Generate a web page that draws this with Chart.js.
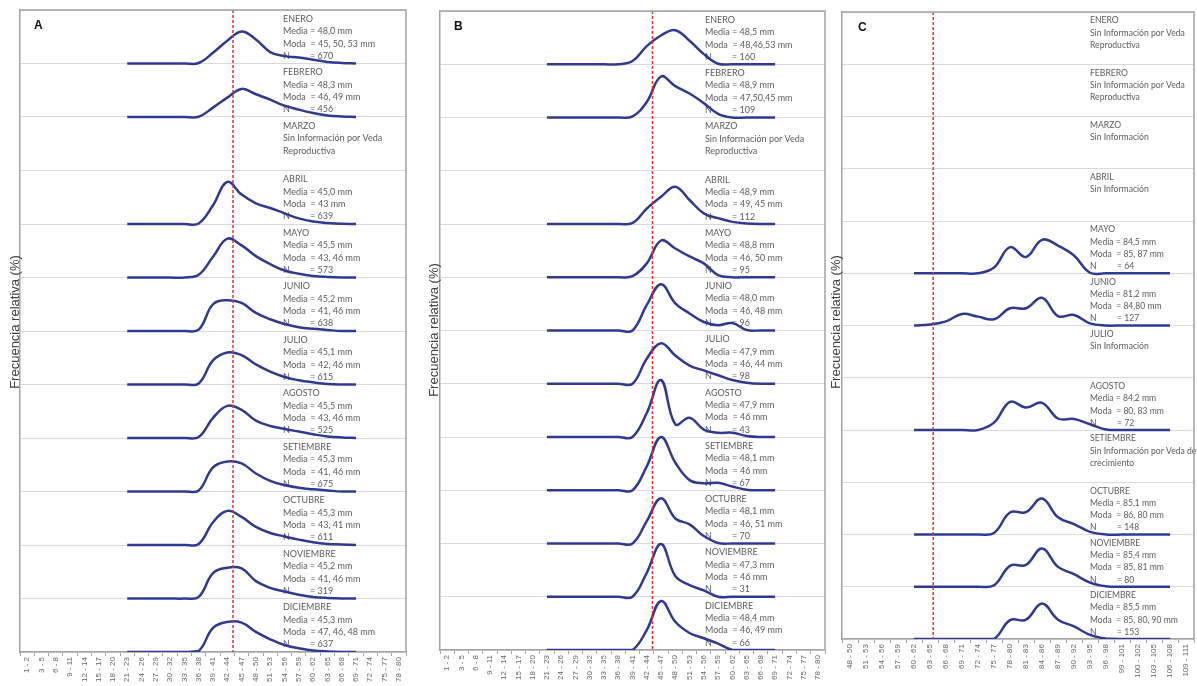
<!DOCTYPE html>
<html>
<head>
<meta charset="utf-8">
<script src="https://cdn.jsdelivr.net/npm/chart.js@4.4.1/dist/chart.umd.min.js"></script>
<style>
    html, body { margin: 0; padding: 0; background: #fff; overflow: hidden; }
    body { width: 1197px; height: 686px; position: relative; }
    canvas { position: absolute; top: 0; }
</style>
</head>
<body>
<canvas id="chartA" width="420" height="686" style="left:0"></canvas>
<canvas id="chartB" width="420" height="686" style="left:420px"></canvas>
<canvas id="chartC" width="377" height="686" style="left:820px"></canvas>
<script>
// Categories (talla, mm)
const labelsAB = ['1 - 2', '3 - 5', '6 - 8', '9 - 11', '12 - 14', '15 - 17', '18 - 20', '21 - 23', '24 - 26',
    '27 - 29', '30 - 32', '33 - 35', '36 - 38', '39 - 41', '42 - 44', '45 - 47', '48 - 50', '51 - 53',
    '54 - 56', '57 - 59', '60 - 62', '63 - 65', '66 - 68', '69 - 71', '72 - 74', '75 - 77', '78 - 80'];
const labelsC = ['48 - 50', '51 - 53', '54 - 56', '57 - 59', '60 - 62', '63 - 65', '66 - 68', '69 - 71',
    '72 - 74', '75 - 77', '78 - 80', '81 - 83', '84 - 86', '87 - 89', '90 - 92', '93 - 95', '96 - 98',
    '99 - 101', '100 - 102', '103 - 105', '106 - 108', '109 - 111'];

const MONTHS = ['ENERO', 'FEBRERO', 'MARZO', 'ABRIL', 'MAYO', 'JUNIO', 'JULIO', 'AGOSTO',
    'SETIEMBRE', 'OCTUBRE', 'NOVIEMBRE', 'DICIEMBRE'];

// Frecuencia relativa (%) - A: from '21 - 23' to '69 - 71'
const A_ENE = [0, 0, 0, 0, 0, 0.4, 8, 17, 24, 18, 8.5, 5.5, 4.5, 2.8, 1.2, 0.4, 0];
const A_FEB = [0, 0, 0, 0, 0, 0.2, 7, 14.5, 21, 17, 13, 8.5, 5.5, 3, 1.2, 0.4, 0];
const A_ABR = [0, 0, 0, 0, 0, 0.4, 14, 31.5, 22, 15.5, 12, 8, 4.2, 1.8, 0.8, 0.2, 0];
const A_MAY = [0, 0, 0, 0, 0, 2, 15.5, 29, 24, 16, 10, 5.2, 2.8, 1.2, 0.4, 0, 0];
const A_JUN = [0, 0, 0, 0, 0, 1, 20, 23, 21, 13.5, 8.8, 5.2, 2.8, 1.6, 0.8, 0, 0];
const A_JUL = [0, 0, 0, 0, 0, 0.8, 18, 24, 22, 15, 9.6, 5.6, 3.2, 1.6, 0.4, 0, 0];
const A_AGO = [0, 0, 0, 0, 0, 0.8, 15, 24, 21, 13, 9, 6.8, 4.8, 2.8, 1.2, 0.4, 0];
const A_SET = [0, 0, 0, 0, 0, 0.8, 18, 22.5, 21, 13.5, 8, 4.8, 2.8, 1.6, 0.8, 0, 0];
const A_OCT = [0, 0, 0, 0, 0, 0.8, 17, 25.5, 21, 13.5, 9, 6.4, 4, 2, 0.8, 0.4, 0];
const A_NOV = [0, 0, 0, 0, 0, 1.2, 19, 23, 22.5, 13, 8, 5.2, 2.8, 1.2, 0.4, 0, 0];
const A_DIC = [0, 0, 0, 0, 0, 0.8, 18, 22.5, 22, 15, 9.5, 5.2, 2.8, 1.2, 0.4, 0, 0];

// B: from '21 - 23' to '69 - 71'
const B_ENE = [0, 0, 0, 0, 0, 0, 2.4, 13.6, 21.6, 25.6, 17.6, 7.6, 0.4, 0, 0, 0, 0];
const B_FEB = [0, 0, 0, 0, 0, 0, 0.8, 11.6, 30.8, 23.6, 18, 10.8, 2.8, 0, 0, 0, 0];
const B_ABR = [0, 0, 0, 0, 0, 0, 0.8, 11.6, 20.4, 28, 18, 8, 4.4, 1.6, 0.4, 0, 0];
const B_MAY = [0, 0, 0, 0, 0, 0, 0.8, 10.4, 27.6, 21.6, 15.6, 10.4, 1.6, 0, 0, 0, 0];
const B_JUN = [0, 0, 0, 0, 0, 0, 0, 19.2, 34.8, 20.4, 12.8, 6.4, 4, 5.6, 0.4, 0, 0];
const B_JUL = [0, 0, 0, 0, 0, 0, 0, 18.8, 30.4, 21.2, 13.6, 10, 6.4, 2.8, 0.8, 0, 0];
const B_AGO = [0, 0, 0, 0, 0, 0, 0, 18, 42.8, 9.6, 14.4, 5.6, 3.2, 3.2, 0.8, 0, 0];
const B_SET = [0, 0, 0, 0, 0, 0, 0, 18, 40, 20.8, 7.6, 5.2, 5.6, 2.8, 0.4, 0, 0];
const B_OCT = [0, 0, 0, 0, 0, 0, 0, 16.8, 34, 18.8, 14.4, 5.6, 0.4, 0, 0, 0, 0];
const B_NOV = [0, 0, 0, 0, 0, 0, 0, 18, 39.6, 15.6, 8.8, 4.8, 0, 0, 0, 0, 0];
const B_DIC = [0, 0, 0, 0, 0, 0, 0, 15, 36.8, 21.2, 12.8, 8.8, 4.8, 0, 0, 0, 0];

// C: from '60 - 62' onward
const C_MAY = [0, 0, 0, 0, 0, 4.4, 20, 12.4, 25.6, 21.2, 13.6, 0.4, 0, 0, 0, 0, 0];
const C_JUN = [0, 0.8, 3.2, 8.8, 6.8, 4.8, 13.2, 13.2, 21.2, 7.2, 8, 1.6, 0, 0, 0, 0, 0];
const C_AGO = [0, 0, 0, 0, 0, 5.6, 21.6, 17.2, 20.8, 8.8, 8.4, 4.4, 0.4, 0, 0, 0, 0];
const C_OCT = [0, 0, 0, 0, 0, 1.2, 16.8, 17.2, 27.6, 13.2, 8, 2, 0, 0, 0, 0, 0];
const C_NOV = [0, 0, 0, 0, 0, 1.2, 16, 16.8, 29.2, 15.2, 9.6, 3.2, 0.4, 0, 0, 0, 0];
const C_DIC = [0, 0, 0, 0, 0, 0, 14.4, 14.8, 27.2, 14.8, 9.6, 3.2, 0.4, 0, 0, 0, 0];

const freqA = [A_ENE, A_FEB, null, A_ABR, A_MAY, A_JUN, A_JUL, A_AGO, A_SET, A_OCT, A_NOV, A_DIC];
const freqB = [B_ENE, B_FEB, null, B_ABR, B_MAY, B_JUN, B_JUL, B_AGO, B_SET, B_OCT, B_NOV, B_DIC];
const freqC = [null, null, null, null, C_MAY, C_JUN, null, C_AGO, null, C_OCT, C_NOV, C_DIC];

// Resumen por mes
const mediaA = ['48,0', '48,3', null, '45,0', '45,5', '45,2', '45,1', '45,5', '45,3', '45,3', '45,2', '45,3'];
const modaA = ['45, 50, 53', '46, 49', null, '43', '43, 46', '41, 46', '42, 46', '43, 46', '41, 46', '43, 41', '41, 46', '47, 46, 48'];
const nA = ['670', '456', null, '639', '573', '638', '615', '525', '675', '611', '319', '637'];
const mediaB = ['48,5', '48,9', null, '48,9', '48,8', '48,0', '47,9', '47,9', '48,1', '48,1', '47,3', '48,4'];
const modaB = ['48,46,53', '47,50,45', null, '49, 45', '46, 50', '46, 48', '46, 44', '46', '46', '46, 51', '46', '46, 49'];
const nB = ['160', '109', null, '112', '95', '96', '98', '43', '67', '70', '31', '66'];
const mediaC = [null, null, null, null, '84,5', '81,2', null, '84,2', null, '85,1', '85,4', '85,5'];
const modaC = [null, null, null, null, '85, 87', '84,80', null, '80, 83', null, '86, 80', '85, 81', '85, 80, 90'];
const nC = [null, null, null, null, '64', '127', null, '72', null, '148', '80', '153'];

const VEDA = ['Sin Información por Veda', 'Reproductiva'];
const gapA = [null, null, VEDA, null, null, null, null, null, null, null, null, null];
const gapB = [null, null, VEDA, null, null, null, null, null, null, null, null, null];
const gapC = [VEDA, VEDA, ['Sin Información'], ['Sin Información'], null, null, ['Sin Información'], null,
    ['Sin Información por Veda de', 'crecimiento'], null, null, null];

const ROW_SPAN = 40;   // % per row height
const LINE_COLOR = '#2f3b93';
const TEXT_COLOR = '#5b5b5b';
const FRAME_COLOR = '#a3a3a3';

function buildDatasets(freqRows, firstIdx, nCats) {
    const sets = [];
    freqRows.forEach((vals, m) => {
        if (!vals) return;
        const base = 11 - m;
        const data = new Array(nCats).fill(null);
        vals.forEach((v, k) => { data[firstIdx + k] = base + v / ROW_SPAN; });
        sets.push({
            label: MONTHS[m],
            data: data,
            borderColor: LINE_COLOR,
            borderWidth: 2.5,
            pointRadius: 0,
            tension: 0.4,
            fill: false
        });
    });
    return sets;
}

function buildNotes(media, moda, n, gap) {
    return MONTHS.map((name, m) => {
        if (gap[m]) return [name].concat(gap[m]);
        return [name, 'Media = ' + media[m] + ' mm', 'Moda  = ' + moda[m] + ' mm', ['N', '= ' + n[m]]];
    });
}

// draws notes, reference line, frame, letter and axis title
const panelDecor = {
    id: 'panelDecor',
    beforeDatasetsDraw(chart, args, opts) {
        const { ctx, scales: { y } } = chart;
        ctx.save();
        ctx.fillStyle = TEXT_COLOR;
        ctx.font = opts.noteFont;
        ctx.textBaseline = 'middle';
        opts.notes.forEach((lines, m) => {
            const top = y.getPixelForValue(12 - m);
            lines.forEach((ln, k) => {
                const yy = top + opts.noteTop + k * 12.3;
                if (Array.isArray(ln)) {
                    ctx.fillText(ln[0], opts.textX, yy);
                    ctx.fillText(ln[1], opts.textX + 27, yy);
                } else {
                    ctx.fillText(ln, opts.textX, yy);
                }
            });
        });
        ctx.restore();
    },
    afterDatasetsDraw(chart, args, opts) {
        const { ctx, chartArea: ca, scales: { x } } = chart;
        ctx.save();
        // reference size line
        const rx = x.getPixelForValue(opts.refIdx);
        ctx.strokeStyle = '#e3342f';
        ctx.lineWidth = 1.5;
        ctx.setLineDash([3, 2]);
        ctx.beginPath();
        ctx.moveTo(rx, ca.top);
        ctx.lineTo(rx, ca.bottom);
        ctx.stroke();
        ctx.setLineDash([]);
        // frame
        ctx.strokeStyle = FRAME_COLOR;
        ctx.lineWidth = 1.5;
        ctx.beginPath();
        ctx.moveTo(ca.left, ca.top);
        ctx.lineTo(ca.right, ca.top);
        ctx.lineTo(ca.right, ca.bottom);
        ctx.stroke();
        // panel letter
        ctx.fillStyle = '#111';
        ctx.font = 'bold 12px "Liberation Sans", Arial, sans-serif';
        ctx.textBaseline = 'middle';
        ctx.fillText(opts.letter, ca.left + opts.letterDx, ca.top + 16);
        // y title
        ctx.translate(opts.titleX, opts.titleY);
        ctx.rotate(-Math.PI / 2);
        ctx.textAlign = 'center';
        ctx.fillStyle = '#404040';
        ctx.font = '13px "Liberation Sans", Arial, sans-serif';
        ctx.fillText('Frecuencia relativa (%)', 0, 0);
        ctx.restore();
    }
};

function makePanel(id, cfg) {
    return new Chart(document.getElementById(id), {
        type: 'line',
        data: {
            labels: cfg.labels,
            datasets: buildDatasets(cfg.freq, cfg.firstIdx, cfg.labels.length)
        },
        options: {
            responsive: false,
            animation: false,
            layout: { padding: cfg.padding },
            plugins: {
                legend: { display: false },
                tooltip: { enabled: false },
                panelDecor: cfg.decor
            },
            scales: {
                x: {
                    type: 'category',
                    offset: true,
                    afterFit: (s) => { s.height = cfg.axisH; },
                    grid: { drawOnChartArea: false, offset: true, tickLength: 4, color: FRAME_COLOR },
                    border: { color: FRAME_COLOR, width: 1.5 },
                    ticks: {
                        autoSkip: false, minRotation: 90, maxRotation: 90, padding: 1,
                        color: '#666', font: { size: cfg.tickSize, family: '"Liberation Sans", Arial, sans-serif' }
                    }
                },
                y: {
                    min: 0, max: 12,
                    afterFit: (s) => { s.width = 0; },
                    ticks: { display: false, stepSize: 1 },
                    grid: { color: '#d9d9d9', drawTicks: false },
                    border: { color: FRAME_COLOR, width: 1.5 }
                }
            }
        },
        plugins: [panelDecor]
    });
}

makePanel('chartA', {
    labels: labelsAB, freq: freqA, firstIdx: 7, tickSize: 8, axisH: 34,
    padding: { left: 20, right: 14, top: 10, bottom: 0 },
    decor: { notes: buildNotes(mediaA, modaA, nA, gapA), textX: 283, noteTop: 9, refIdx: 14.4,
        noteFont: '9px Lato, "Liberation Sans", sans-serif',
        letter: 'A', letterDx: 14, titleX: 15, titleY: 322 }
});
makePanel('chartB', {
    labels: labelsAB, freq: freqB, firstIdx: 7, tickSize: 8, axisH: 36,
    padding: { left: 20, right: 15, top: 11, bottom: 0 },
    decor: { notes: buildNotes(mediaB, modaB, nB, gapB), textX: 285, noteTop: 9, refIdx: 14.4,
        noteFont: '9px Lato, "Liberation Sans", sans-serif',
        letter: 'B', letterDx: 14, titleX: 14, titleY: 330 }
});
makePanel('chartC', {
    labels: labelsC, freq: freqC, firstIdx: 4, tickSize: 8, axisH: 47,
    padding: { left: 22, right: 3, top: 12, bottom: 0 },
    decor: { notes: buildNotes(mediaC, modaC, nC, gapC), textX: 270, noteTop: 8.5, refIdx: 5.2,
        noteFont: '8.6px Lato, "Liberation Sans", sans-serif',
        letter: 'C', letterDx: 16, titleX: 16, titleY: 322 }
});
</script>
</body>
</html>
